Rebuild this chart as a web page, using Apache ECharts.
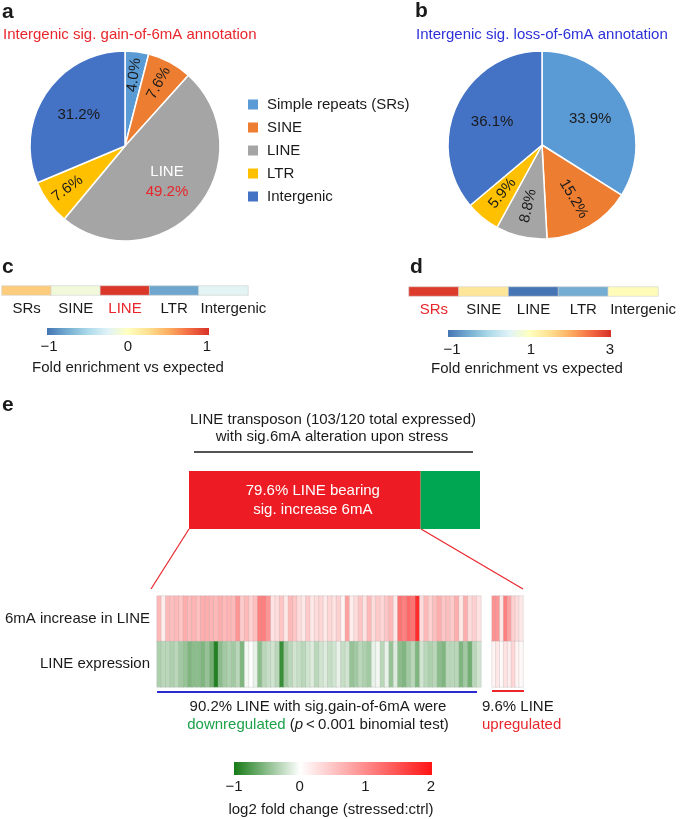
<!DOCTYPE html>
<html><head><meta charset="utf-8">
<script src="https://cdn.jsdelivr.net/npm/echarts@6.0.0/dist/echarts.min.js"></script>
<style>html,body{margin:0;padding:0;background:#fff}#c{width:685px;height:819px}</style>
</head><body><div id="c"></div>
<script>
// ---------------- data ----------------
const pieNames = ['Simple repeats (SRs)', 'SINE', 'LINE', 'LTR', 'Intergenic'];
const pieColors = ['#5B9BD5', '#ED7D31', '#A5A5A5', '#FFC000', '#4472C4'];
const gainPct = [4.0, 7.6, 49.2, 7.6, 31.2];
const lossPct = [33.9, 15.2, 8.8, 5.9, 36.1];

const enrichCats = ['SRs', 'SINE', 'LINE', 'LTR', 'Intergenic'];
const enrichGain = [0.35, -0.12, 0.97, -0.78, -0.23];
const enrichLoss = [2.9, 1.4, -1.0, -0.5, 1.05];
const gainTicks = ['\u22121', '0', '1'];
const lossTicks = ['\u22121', '1', '3'];
const log2Ticks = ['\u22121', '0', '1', '2'];

const barShares = [79.6, 20.4];

const incr6mA_down = [0.6,0.15,0.6,0.55,0.6,0.5,0.7,0.6,0.65,0.55,0.7,0.7,0.65,0.6,0.7,0.6,0.65,0.6,0.9,0.45,0.6,0.4,0.55,1.1,1.1,0.9,0.25,0.3,0.5,0.2,0.6,0.5,0.3,0.2,0.45,0.2,0.3,
  0.35,0.2,0.35,0.25,0.4,0.1,0.8,0.15,0.3,0.5,0.25,0.6,0.3,0.45,0.35,0.5,0.6,0.2,1.2,1.1,1.3,1.2,1.8,0.3,0.6,0.4,0.55,0.7,0.5,0.55,0.45,0.7,0.2,0.7,0.3,0.4,0.25];
const expr_down = [-0.35,-0.3,-0.3,-0.35,-0.3,-0.4,-0.45,-0.55,-0.5,-0.5,-0.55,-0.45,-0.6,-0.95,-0.5,-0.4,-0.35,-0.4,-0.3,-0.55,-0.05,0.0,-0.1,-0.5,-0.3,-0.25,-0.2,-0.3,-0.85,-0.4,-0.3,-0.2,-0.25,-0.3,-0.2,-0.15,-0.3,
  -0.2,-0.15,-0.25,-0.2,-0.1,-0.25,-0.2,-0.45,-0.4,-0.3,-0.35,-0.4,-0.1,-0.05,-0.3,-0.1,-0.45,-0.15,-0.5,-0.55,-0.4,-0.3,-0.55,-0.2,-0.3,-0.35,-0.3,-0.5,-0.55,-0.3,-0.3,-0.3,-0.55,-0.4,-0.6,-0.3,-0.2];
const incr6mA_up = [0.95, 0.9, 0.2, 1.1, 0.8, 0.4, 0.3, 0.2];
const expr_up = [0.1, 0.2, 0.05, 0.25, 0.15, 0.35, 0.1, 0.05];

const heatRows = ['LINE expression', '6mA increase in LINE'];

// ---------------- helpers ----------------
const F = '"Liberation Sans", Arial, Helvetica, sans-serif';
const RDYLBU = ['#4575b4','#74add1','#abd9e9','#e0f3f8','#ffffbf','#fee090','#fdae61','#f46d43','#d73027'];
const GWR = ['#167a16', '#ffffff', '#ff8a8a', '#ff1414'];

function pieMain(vals, center, r) {
  return {
    type: 'pie', center: center, radius: [0, r], startAngle: 90, clockwise: true,
    animation: false, silent: true,
    itemStyle: { borderColor: '#fff', borderWidth: 1.5 },
    label: { show: false }, labelLine: { show: false },
    data: vals.map((v, i) => ({ value: v, name: pieNames[i], itemStyle: { color: pieColors[i] } }))
  };
}
function pieLabels(vals, center, radius, showIdx, radial, fmt) {
  return {
    type: 'pie', center: center, radius: radius, startAngle: 90, clockwise: true,
    animation: false, silent: true, emphasis: { disabled: true },
    itemStyle: { color: 'rgba(0,0,0,0)', borderWidth: 0 },
    labelLine: { show: false },
    label: {
      position: 'inside', rotate: radial ? 'radial' : 0, fontSize: 15, fontFamily: F, color: '#1a1a1a',
      formatter: fmt || (p => p.value.toFixed(1) + '%'),
      rich: { w: { color: '#ffffff', fontSize: 15, fontFamily: F, lineHeight: 20 },
              r: { color: '#E8262B', fontSize: 15, fontFamily: F, lineHeight: 20 } }
    },
    data: vals.map((v, i) => ({ value: v, name: pieNames[i], label: { show: showIdx.indexOf(i) >= 0 } }))
  };
}
function T(x, y, text, o) {
  o = o || {};
  return {
    type: 'text', x: x, y: y, silent: true,
    style: {
      text: text, fill: o.fill || '#1a1a1a', fontSize: o.size || 15, fontFamily: F,
      fontWeight: o.bold ? 'bold' : 'normal',
      align: o.align || 'left', textAlign: o.align || 'left',
      verticalAlign: 'middle', textVerticalAlign: 'middle',
      rich: o.rich
    }
  };
}
function gradRect(x, y, w, h, colors) {
  return {
    type: 'rect', shape: { x: x, y: y, width: w, height: h }, silent: true,
    style: { fill: { type: 'linear', x: 0, y: 0, x2: 1, y2: 0,
      colorStops: colors.map((c, i) => ({ offset: i / (colors.length - 1), color: c })) } }
  };
}
function ticks(x0, x1, y, labels) {
  return labels.map((t, i) => T(x0 + (x1 - x0) * i / (labels.length - 1), y, t, { align: 'center' }));
}
function L(x1, y1, x2, y2, color, w) {
  return { type: 'line', silent: true, shape: { x1: x1, y1: y1, x2: x2, y2: y2 }, style: { stroke: color, lineWidth: w } };
}

const catData = (redIdx) => enrichCats.map((c, i) => ({
  value: c,
  textStyle: Object.assign({ color: i === redIdx ? '#E8262B' : '#1a1a1a' }, c === 'Intergenic' ? { padding: [0, 0, 0, 20] } : {})
}));

const heatL = [];
incr6mA_down.forEach((v, i) => heatL.push([i, 1, v]));
expr_down.forEach((v, i) => heatL.push([i, 0, v]));
const heatR = [];
incr6mA_up.forEach((v, i) => heatR.push([i, 1, v]));
expr_up.forEach((v, i) => heatR.push([i, 0, v]));

const hideAxis = { axisLine: { show: false }, axisTick: { show: false }, splitLine: { show: false } };

// ---------------- option ----------------
const option = {
  animation: false,
  backgroundColor: '#ffffff',
  textStyle: { fontFamily: F },
  legend: {
    orient: 'vertical', left: 246, top: 97, padding: 0,
    itemWidth: 12, itemHeight: 12, itemGap: 8, icon: 'rect',
    selectedMode: false,
    textStyle: { fontSize: 15, color: '#1a1a1a', fontFamily: F, lineHeight: 15, padding: [0, 0, 0, 3] },
    data: pieNames
  },
  grid: [
    { left: 2, top: 286, width: 246, height: 9 },
    { left: 409, top: 287, width: 249, height: 9 },
    { left: 157, top: 596, width: 324, height: 91 },
    { left: 492, top: 596, width: 31, height: 91 },
    { left: 189, top: 471, width: 291, height: 58 }
  ],
  xAxis: [
    Object.assign({ type: 'category', gridIndex: 0, data: catData(2), axisLabel: { interval: 0, fontSize: 15, margin: 6, fontFamily: F } }, hideAxis),
    Object.assign({ type: 'category', gridIndex: 1, data: catData(0), axisLabel: { interval: 0, fontSize: 15, margin: 6, fontFamily: F } }, hideAxis),
    Object.assign({ type: 'category', gridIndex: 2, data: incr6mA_down.map((_, i) => String(i)), axisLabel: { show: false } }, hideAxis),
    Object.assign({ type: 'category', gridIndex: 3, data: incr6mA_up.map((_, i) => String(i)), axisLabel: { show: false } }, hideAxis),
    Object.assign({ type: 'value', gridIndex: 4, min: 0, max: 100, axisLabel: { show: false } }, hideAxis)
  ],
  yAxis: [
    Object.assign({ type: 'category', gridIndex: 0, data: ['c'], axisLabel: { show: false } }, hideAxis),
    Object.assign({ type: 'category', gridIndex: 1, data: ['d'], axisLabel: { show: false } }, hideAxis),
    Object.assign({ type: 'category', gridIndex: 2, data: heatRows, axisLabel: { fontSize: 15, margin: 7, color: '#1a1a1a', fontFamily: F } }, hideAxis),
    Object.assign({ type: 'category', gridIndex: 3, data: heatRows, axisLabel: { show: false } }, hideAxis),
    Object.assign({ type: 'category', gridIndex: 4, data: ['LINE'], axisLabel: { show: false } }, hideAxis)
  ],
  visualMap: [
    { type: 'continuous', show: false, seriesIndex: 6, dimension: 2, min: -1, max: 1, inRange: { color: RDYLBU } },
    { type: 'continuous', show: false, seriesIndex: 7, dimension: 2, min: -1, max: 3, inRange: { color: RDYLBU } },
    { type: 'continuous', show: false, seriesIndex: [8, 9], dimension: 2, min: -1, max: 2, inRange: { color: GWR } }
  ],
  series: [
    pieMain(gainPct, [125, 146], 95),
    pieLabels(gainPct, [125, 146], [10, 95], [2, 4], false,
      p => p.name === 'LINE' ? '{w|LINE}\n{r|' + p.value.toFixed(1) + '%}' : p.value.toFixed(1) + '%'),
    pieLabels(gainPct, [125, 146], [42, 95], [0, 1, 3], true),
    pieMain(lossPct, [542, 145], 94),
    pieLabels(lossPct, [542, 145], [10, 94], [0, 4], false),
    pieLabels(lossPct, [542, 145], [25, 94], [1, 2, 3], true),
    { type: 'heatmap', xAxisIndex: 0, yAxisIndex: 0, silent: true,
      itemStyle: { borderColor: '#d0d0d0', borderWidth: 0.6 },
      data: enrichGain.map((v, i) => [i, 0, v]) },
    { type: 'heatmap', xAxisIndex: 1, yAxisIndex: 1, silent: true,
      itemStyle: { borderColor: '#d0d0d0', borderWidth: 0.6 },
      data: enrichLoss.map((v, i) => [i, 0, v]) },
    { type: 'heatmap', xAxisIndex: 2, yAxisIndex: 2, silent: true,
      itemStyle: { borderColor: 'rgba(170,170,170,0.55)', borderWidth: 0.5 }, data: heatL },
    { type: 'heatmap', xAxisIndex: 3, yAxisIndex: 3, silent: true,
      itemStyle: { borderColor: 'rgba(170,170,170,0.55)', borderWidth: 0.5 }, data: heatR },
    { type: 'bar', xAxisIndex: 4, yAxisIndex: 4, stack: 'x', barWidth: '100%', silent: true,
      itemStyle: { color: '#ED1C24' }, data: [barShares[0]],
      label: { show: true, position: 'inside', offset: [8, 0], color: '#ffffff', fontSize: 15, lineHeight: 19, fontFamily: F,
        formatter: () => barShares[0].toFixed(1) + '% LINE bearing\nsig. increase 6mA' } },
    { type: 'bar', xAxisIndex: 4, yAxisIndex: 4, stack: 'x', barWidth: '100%', silent: true,
      itemStyle: { color: '#00A651' }, data: [barShares[1]] }
  ],
  graphic: [].concat(
    [
      T(2, 12, 'a', { bold: true, size: 21 }),
      T(415, 11, 'b', { bold: true, size: 21 }),
      T(2, 267, 'c', { bold: true, size: 21 }),
      T(410, 267, 'd', { bold: true, size: 21 }),
      T(2, 405, 'e', { bold: true, size: 21 }),
      T(3, 35, 'Intergenic sig. gain-of-6mA annotation', { fill: '#E8262B' }),
      T(416, 35, 'Intergenic sig. loss-of-6mA annotation', { fill: '#2E30D8' }),
      // colorbar c
      gradRect(47, 328, 162, 7, RDYLBU),
      T(128, 368, 'Fold enrichment vs expected', { align: 'center' }),
      // colorbar d
      gradRect(448, 330, 163, 7, RDYLBU),
      T(527, 369, 'Fold enrichment vs expected', { align: 'center' }),
      // panel e
      T(333, 420, 'LINE transposon (103/120 total expressed)', { align: 'center' }),
      T(332, 437, 'with sig.6mA alteration upon stress', { align: 'center' }),
      L(194, 452, 473, 452, '#1a1a1a', 1.5),
      L(189, 529, 151, 589, '#E8262B', 1.2),
      L(421, 529, 523, 589, '#E8262B', 1.2),
      L(157, 692, 477, 692, '#2B2BD0', 2),
      L(492, 691, 524, 691, '#E8262B', 2),
      T(318, 707, '90.2% LINE with sig.gain-of-6mA were', { align: 'center' }),
      T(318, 725, '{g|downregulated} ({i|p}\u2009<\u20090.001 binomial test)', { align: 'center',
        rich: { g: { fill: '#1DA24A', color: '#1DA24A', fontSize: 15, fontFamily: F },
                i: { fontStyle: 'italic', fontSize: 15, fontFamily: F, fill: '#1a1a1a' } } }),
      T(482, 707, '9.6% LINE', {}),
      T(482, 725, 'upregulated', { fill: '#E8262B' }),
      // colorbar e
      gradRect(234, 762, 198, 13, GWR),
      T(331, 810, 'log2 fold change (stressed:ctrl)', { align: 'center' })
    ],
    ticks(49, 207, 347, gainTicks),
    ticks(452, 610, 350, lossTicks),
    ticks(234, 431, 787, log2Ticks)
  )
};

const chart = echarts.init(document.getElementById('c'), null, { renderer: 'canvas' });
chart.setOption(option);
</script>
</body></html>
